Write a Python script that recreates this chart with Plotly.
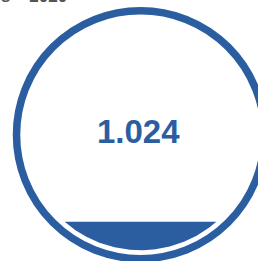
import numpy as np
import plotly.graph_objects as go

# data
value_label = "1.024"
fill_percent = 12.3          # liquid level, percent of gauge height
title_text = "s\u00a0\u00a0\u00a0 2020"

W, H = 258, 261
BLUE = "#2B5EA0"

cx, cy = 140.5, H - 134.7
ring_r = 124.0
ring_w = 7.5
fill_r = 115.5

# liquid segment from the fill level
level = cy - fill_r + 2 * fill_r * fill_percent / 100.0
a = np.arcsin(np.clip((level - cy) / fill_r, -1, 1))
theta = np.linspace(np.pi - a, 2 * np.pi + a, 200)
xs = cx + fill_r * np.cos(theta)
ys = cy + fill_r * np.sin(theta)
xs = np.append(xs, xs[0])
ys = np.append(ys, ys[0])

fig = go.Figure()
fig.add_trace(go.Scatter(x=xs, y=ys, mode="lines", fill="toself",
                         fillcolor=BLUE, line=dict(width=0, color=BLUE),
                         hoverinfo="skip", showlegend=False))

fig.add_shape(type="circle", xref="x", yref="y",
              x0=cx - ring_r, x1=cx + ring_r, y0=cy - ring_r, y1=cy + ring_r,
              line=dict(color=BLUE, width=ring_w), fillcolor="rgba(0,0,0,0)")

fig.add_annotation(x=138, y=H - 131.7, xref="x", yref="y", text=f"<b>{value_label}</b>",
                   showarrow=False, font=dict(family="Liberation Sans, Arial", size=33, color=BLUE),
                   xanchor="center", yanchor="middle")

fig.add_annotation(x=0, y=H - 7, xref="x", yref="y", text=f"<b>{title_text}</b>",
                   showarrow=False, font=dict(family="Liberation Sans, Arial", size=17, color="#555555"),
                   xanchor="left", yanchor="bottom", borderpad=0)

fig.update_layout(width=W, height=H, margin=dict(l=0, r=0, t=0, b=0),
                  paper_bgcolor="white", plot_bgcolor="white",
                  xaxis=dict(range=[0, W], visible=False, fixedrange=True),
                  yaxis=dict(range=[0, H], visible=False, fixedrange=True))

fig.write_html("out.html", config={"displayModeBar": False},
               post_script="document.body.style.margin='0';document.body.style.overflow='hidden';")
